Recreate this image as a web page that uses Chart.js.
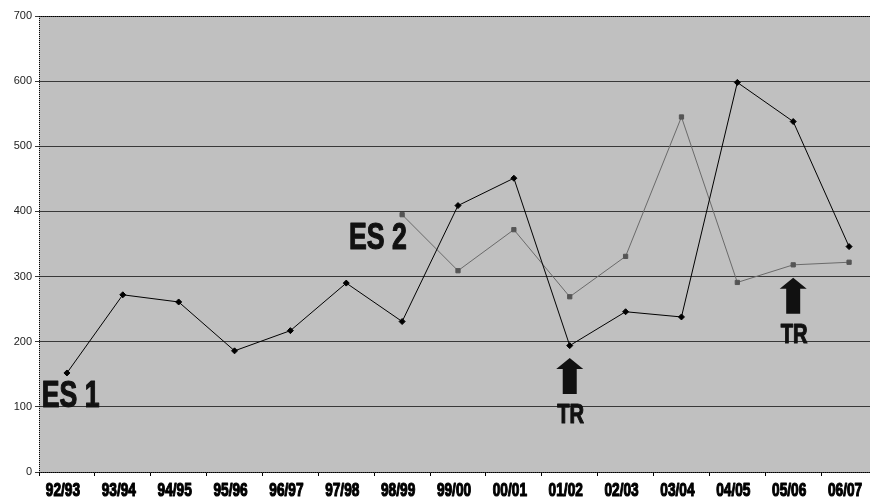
<!DOCTYPE html>
<html>
<head>
<meta charset="utf-8">
<script src="https://cdn.jsdelivr.net/npm/chart.js@4.4.0/dist/chart.umd.min.js"></script>
<style>
  body { margin: 0; background: #fff; overflow: hidden; }
  #wrap { width: 882px; height: 501px; position: relative; }
</style>
</head>
<body>
<div id="wrap"><canvas id="chart"></canvas></div>
<script>
const years = ['92/93','93/94','94/95','95/96','96/97','97/98','98/99','99/00','00/01','01/02','02/03','03/04','04/05','05/06','06/07'];
const es1 = [152, 272, 261, 186, 217, 290, 231, 409, 451, 194, 246, 238, 598, 538, 346];
const es2 = [null, null, null, null, null, null, 395, 309, 372, 269, 331, 545, 291, 318, 322];
const yTicks = [0, 100, 200, 300, 400, 500, 600, 700];

// text labels in data space: [category index, value at baseline, text]
const labels = [
    [-0.45, 100, 'ES 1'],
    [5.05, 342, 'ES 2']
];
// TR arrows: [category index, value at arrow tip]
const arrows = [[9, 175], [13, 298]];

const FONT = '"Liberation Sans", Arial, sans-serif';

// condensed heavy text, like the Excel annotations
function heavyText(ctx, text, x, y, size, squeeze, align) {
    ctx.save();
    ctx.font = 'bold ' + size + 'px ' + FONT;
    ctx.textAlign = align;
    ctx.translate(x, y);
    ctx.scale(squeeze, 1);
    ctx.lineWidth = 1.2;
    ctx.lineJoin = 'round';
    ctx.strokeText(text, 0, 0);
    ctx.fillText(text, 0, 0);
    ctx.restore();
}

const bgPlugin = {
    id: 'plotBg',
    beforeDraw(chart) {
        const { ctx, chartArea: a } = chart;
        ctx.save();
        ctx.fillStyle = '#c0c0c0';
        ctx.fillRect(a.left, a.top, a.right - a.left, a.bottom - a.top);
        ctx.restore();
    },
    afterDatasetsDraw(chart) {
        const { ctx, chartArea: a } = chart;
        ctx.save();
        ctx.strokeStyle = '#000';
        ctx.lineWidth = 1;
        ctx.setLineDash([1, 1]);
        ctx.beginPath();
        ctx.moveTo(a.left, a.top + 0.5);
        ctx.lineTo(a.right, a.top + 0.5);
        ctx.moveTo(a.left + 0.5, a.top);
        ctx.lineTo(a.left + 0.5, a.bottom);
        ctx.moveTo(a.left, a.bottom + 0.5);
        ctx.lineTo(a.right, a.bottom + 0.5);
        ctx.stroke();
        ctx.restore();
    }
};

const notesPlugin = {
    id: 'notes',
    afterDatasetsDraw(chart) {
        const { ctx, scales: { x, y } } = chart;
        const catW = x.getPixelForValue(1) - x.getPixelForValue(0);
        ctx.save();
        ctx.fillStyle = '#111';
        ctx.strokeStyle = '#111';
        labels.forEach(([i, v, t]) => {
            const px = x.getPixelForValue(0) + i * catW;
            heavyText(ctx, t, px, y.getPixelForValue(v), 37, 0.72, 'left');
        });
        arrows.forEach(([i, v]) => {
            const cx = x.getPixelForValue(i);
            const top = y.getPixelForValue(v);
            ctx.beginPath();
            ctx.moveTo(cx, top);
            ctx.lineTo(cx + 13.5, top + 11);
            ctx.lineTo(cx + 7, top + 11);
            ctx.lineTo(cx + 7, top + 36);
            ctx.lineTo(cx - 7, top + 36);
            ctx.lineTo(cx - 7, top + 11);
            ctx.lineTo(cx - 13.5, top + 11);
            ctx.closePath();
            ctx.fill();
            heavyText(ctx, 'TR', cx + 1, top + 65, 28, 0.72, 'center');
        });
        // category labels under the axis
        ctx.fillStyle = '#000';
        ctx.strokeStyle = '#000';
        chart.data.labels.forEach((lab, i) => {
            heavyText(ctx, lab, x.getPixelForValue(i) - 4, 496, 19, 0.72, 'center');
        });
        ctx.restore();
    }
};

new Chart(document.getElementById('chart'), {
    type: 'line',
    data: {
        labels: years,
        datasets: [
            {
                label: 'ES 1',
                data: es1,
                borderColor: '#000',
                borderWidth: 1,
                pointStyle: 'rectRot',
                pointRadius: 3,
                pointBackgroundColor: '#000',
                pointBorderColor: '#000',
                tension: 0
            },
            {
                label: 'ES 2',
                data: es2,
                borderColor: '#6a6a6a',
                borderWidth: 1,
                pointStyle: 'rect',
                pointRadius: 3,
                pointBackgroundColor: '#555',
                pointBorderColor: '#555',
                tension: 0
            }
        ]
    },
    options: {
        responsive: true,
        maintainAspectRatio: false,
        animation: false,
        layout: { padding: { top: 16, right: 0, left: 0, bottom: 0 } },
        plugins: {
            legend: { display: false },
            tooltip: { enabled: false }
        },
        scales: {
            x: {
                offset: true,
                grid: {
                    offset: true,
                    drawOnChartArea: false,
                    drawTicks: true,
                    tickLength: 4,
                    color: '#000'
                },
                border: { display: false },
                ticks: {
                    color: 'rgba(0,0,0,0)',
                    maxRotation: 0,
                    autoSkip: false,
                    font: { family: FONT, size: 12 }
                },
                afterFit(scale) { scale.height = 29; }
            },
            y: {
                min: 0,
                max: 700,
                afterBuildTicks(scale) { scale.ticks = yTicks.map(v => ({ value: v })); },
                grid: {
                    color: '#383838',
                    lineWidth: 1,
                    drawTicks: true,
                    tickLength: 4
                },
                border: { display: false },
                ticks: {
                    color: '#222',
                    padding: 3,
                    font: { family: FONT, size: 11 }
                },
                afterFit(scale) { scale.width = 39; }
            }
        }
    },
    plugins: [bgPlugin, notesPlugin]
});
</script>
</body>
</html>
